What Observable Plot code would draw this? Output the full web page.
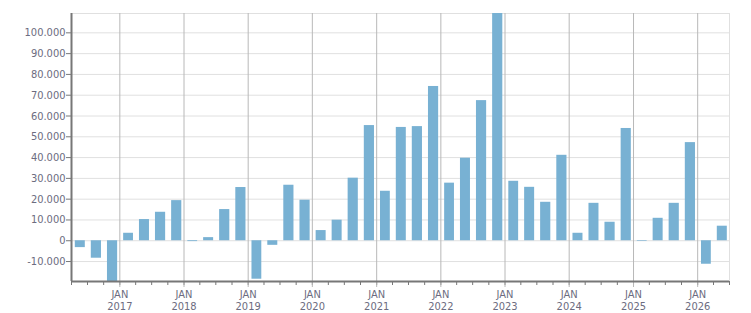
<!DOCTYPE html>
<html>
<head>
<meta charset="utf-8">
<script src="https://cdn.jsdelivr.net/npm/d3@7"></script>
<script src="https://cdn.jsdelivr.net/npm/@observablehq/plot@0.6"></script>
<style>
  html, body { margin: 0; padding: 0; background: #fff; }
</style>
</head>
<body>
<div id="chart"></div>
<script>
// Quarters (start of quarter) and values
const quarters = [
  "2016-Q2","2016-Q3","2016-Q4",
  "2017-Q1","2017-Q2","2017-Q3","2017-Q4",
  "2018-Q1","2018-Q2","2018-Q3","2018-Q4",
  "2019-Q1","2019-Q2","2019-Q3","2019-Q4",
  "2020-Q1","2020-Q2","2020-Q3","2020-Q4",
  "2021-Q1","2021-Q2","2021-Q3","2021-Q4",
  "2022-Q1","2022-Q2","2022-Q3","2022-Q4",
  "2023-Q1","2023-Q2","2023-Q3","2023-Q4",
  "2024-Q1","2024-Q2","2024-Q3","2024-Q4",
  "2025-Q1","2025-Q2","2025-Q3","2025-Q4",
  "2026-Q1","2026-Q2"
];
const values = [
  -3300, -8400, -19600,
  3600, 10200, 13700, 19300,
  -400, 1500, 15000, 25600,
  -18500, -2200, 26700, 19500,
  4900, 9900, 30100, 55400,
  23800, 54500, 54900, 74200,
  27700, 39700, 67400, 109300,
  28600, 25700, 18500, 41100,
  3600, 18000, 8900, 54000,
  -300, 10800, 18000, 47200,
  -11300, 7000
];
const yTickValues = [-10000, 0, 10000, 20000, 30000, 40000, 50000, 60000, 70000, 80000, 90000, 100000];
const monthLabel = "JAN";

function quarterStart(q) {
  const [y, qq] = q.split("-Q").map(Number);
  return new Date(Date.UTC(y, (qq - 1) * 3, 1));
}
const data = quarters.map((q, i) => {
  const s = quarterStart(q);
  return {x1: s, x2: d3.utcMonth.offset(s, 3), value: values[i]};
});
const xDomain = [data[0].x1, data[data.length - 1].x2];
const yDomain = d3.extent(values);
const yearTicks = d3.utcYear.range(d3.utcYear.ceil(xDomain[0]), xDomain[1]);
const quarterTicks = d3.utcMonth.every(3).range(xDomain[0], d3.utcDay.offset(xDomain[1], 1));

const fmt = d3.formatLocale({decimal: ",", thousands: ".", grouping: [3], currency: ["", ""], minus: "-"}).format(",.0f");

const textColor = "#6c6c80";
const chart = Plot.plot({
  width: 751,
  height: 313,
  marginLeft: 71,
  marginRight: 22,
  marginTop: 13,
  marginBottom: 32,
  style: {fontFamily: "'DejaVu Sans Condensed', 'DejaVu Sans', sans-serif", fontSize: "11px", color: textColor, background: "#fff"},
  x: {type: "utc", domain: xDomain, label: null},
  y: {domain: yDomain, label: null},
  marks: [
    Plot.ruleY(yTickValues, {stroke: "#e0e0e0", strokeOpacity: 1}),
    Plot.ruleY([yDomain[1]], {stroke: "#e0e0e0", strokeOpacity: 1}),
    Plot.ruleX([xDomain[1]], {stroke: "#e0e0e0", strokeOpacity: 1}),
    Plot.ruleX(yearTicks, {stroke: "#b8b8b8", strokeOpacity: 1}),
    Plot.rectY(data, {x1: "x1", x2: "x2", y1: 0, y2: "value", fill: "#78b1d3", insetLeft: 3.8, insetRight: 2.2, clip: true}),
    Plot.axisY({ticks: yTickValues, tickFormat: fmt, tickSize: 5, tickPadding: 1, stroke: "#777", strokeOpacity: 1, fill: textColor, label: null}),
    Plot.axisX({ticks: quarterTicks, tickFormat: () => "", tickSize: 4, stroke: "#777", strokeOpacity: 1, label: null}),
    Plot.axisX({ticks: yearTicks, tickFormat: d => monthLabel + "\n" + d.getUTCFullYear(), tickSize: 6, tickPadding: 2, stroke: "#b8b8b8", strokeOpacity: 1, fill: textColor, lineHeight: 1.08, label: null}),
    Plot.ruleX([xDomain[0]], {stroke: "#777", strokeWidth: 2}),
    Plot.ruleY([yDomain[0]], {stroke: "#777", strokeWidth: 2})
  ]
});
document.getElementById("chart").appendChild(chart);
</script>
</body>
</html>
